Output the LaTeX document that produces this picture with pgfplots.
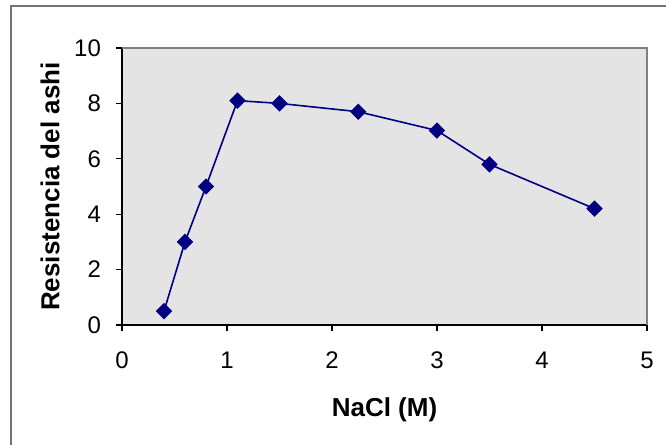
\documentclass[border=0pt]{standalone}
\usepackage{pgfplots}
\pgfplotsset{compat=1.18}
\usepackage{fontspec}
\setmainfont{Liberation Sans}
\definecolor{navyline}{RGB}{0,0,128}
\definecolor{bgarea}{RGB}{228,228,228}
\begin{document}
\begin{tikzpicture}
\useasboundingbox (0,0) rectangle (333pt,222.5pt);
\draw[line width=0.8pt, draw=black!55] (5.5pt,0) -- (5.5pt,219.5pt) -- (333pt,219.5pt);
\begin{axis}[
  at={(61pt,60pt)}, anchor=south west,
  scale only axis, width=262.5pt, height=138.5pt,
  xmin=0, xmax=5, ymin=0, ymax=10,
  xtick={0,1,2,3,4,5}, ytick={0,2,4,6,8,10},
  axis x line*=bottom, axis y line*=left,
  axis line style={black, line width=0.6pt},
  tick align=outside, major tick length=3pt,
  tick style={black, line width=0.6pt},
  axis background/.style={fill=bgarea},
  /pgf/number format/assume math mode=true,
  ticklabel style={font=\fontsize{12}{14}\selectfont},
  xticklabel style={anchor=center, yshift=-14.5pt},
  yticklabel style={anchor=east, xshift=-4pt},
  xlabel={\fontsize{13}{15}\selectfont\bfseries NaCl (M)},
  ylabel={\fontsize{13}{15}\selectfont\bfseries Resistencia del ashi},
  every axis x label/.style={at={(axis description cs:0.5,-0.307)}, anchor=center},
  every axis y label/.style={at={(axis description cs:-0.137,0.5)}, anchor=center, rotate=90},
  after end axis/.code={
    \draw[black!50, line width=0.8pt] (rel axis cs:0,1) -- (rel axis cs:1,1) -- (rel axis cs:1,0);
  },
]
\addplot[navyline, line width=0.8pt, mark=square*, mark size=2.5pt,
  mark options={rotate=45, fill=navyline, draw=navyline}]
  coordinates {(0.4,0.5) (0.6,3) (0.8,5) (1.1,8.1) (1.5,8.0) (2.25,7.7) (3,7.02) (3.5,5.8) (4.5,4.2)};
\end{axis}
\end{tikzpicture}
\end{document}
